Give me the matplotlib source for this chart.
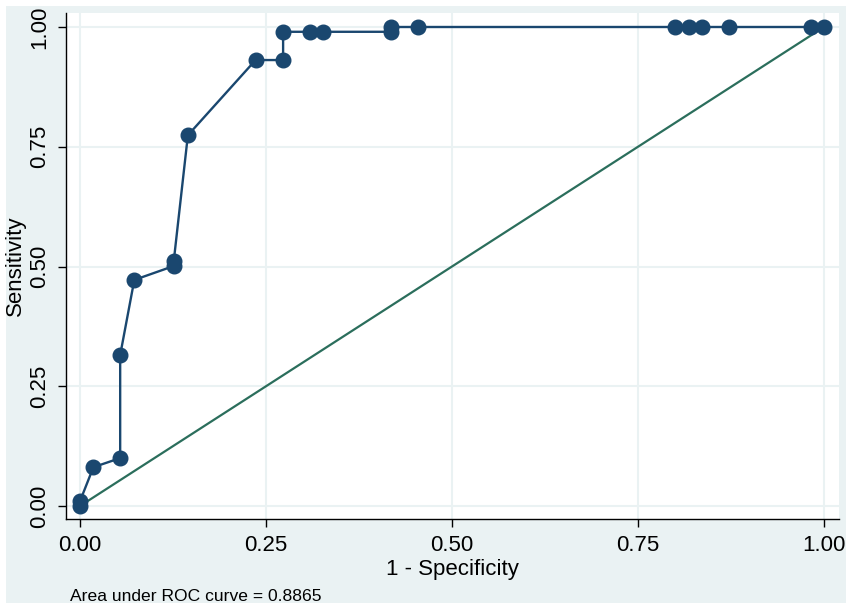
import matplotlib.pyplot as plt
from matplotlib.patches import Rectangle

# ROC points
fpr = [0.0, 0.0, 0.018, 0.054, 0.054, 0.073, 0.126, 0.126, 0.145, 0.236, 0.273,
       0.273, 0.309, 0.327, 0.418, 0.418, 0.454, 0.800, 0.818, 0.836, 0.872,
       0.982, 1.0]
sens = [0.0, 0.010, 0.081, 0.100, 0.315, 0.472, 0.501, 0.511, 0.774, 0.931, 0.931,
        0.990, 0.990, 0.990, 0.990, 1.0, 1.0, 1.0, 1.0, 1.0, 1.0,
        1.0, 1.0]
ticks = [0.0, 0.25, 0.5, 0.75, 1.0]
tick_labels = ["0.00", "0.25", "0.50", "0.75", "1.00"]
auc_note = "Area under ROC curve = 0.8865"

navy = "#1A476F"
green = "#2B6E5C"
bg = "#EAF2F3"
plt.rcParams["font.family"] = ["Liberation Sans", "DejaVu Sans"]

fig = plt.figure(figsize=(8.51, 6.10), dpi=100, facecolor="white")
fig.patches.append(Rectangle((6 / 851, 1 - 603 / 610), 840 / 851, 597 / 610,
                             transform=fig.transFigure, facecolor=bg,
                             edgecolor="none", zorder=-10))
ax = fig.add_axes([66 / 851, 1 - 519 / 610, 773 / 851, 506 / 610])
ax.set_facecolor("white")

ax.plot([0, 1], [0, 1], color=green, lw=1.6, zorder=2)
ax.plot(fpr, sens, color=navy, lw=1.7, marker="o", markersize=10.5,
        markerfacecolor=navy, markeredgecolor=navy, zorder=3)

ax.set_xlim(-14 / 744, 1 + 15 / 744)
ax.set_ylim(-13 / 479, 1 + 14 / 479)
ax.set_xticks(ticks)
ax.set_xticklabels(tick_labels)
ax.set_yticks(ticks)
ax.set_yticklabels(tick_labels, rotation=90, va="center")
ax.tick_params(labelsize=16, length=6, width=1, color="black", pad=5.5)
ax.grid(True, color=bg, lw=1.5)
ax.set_axisbelow(True)

for s in ["top", "right"]:
    ax.spines[s].set_visible(False)
for s in ["left", "bottom"]:
    ax.spines[s].set_color("black")
    ax.spines[s].set_linewidth(1)

ax.set_xlabel("1 - Specificity", fontsize=16, labelpad=2.5)
ax.set_ylabel("Sensitivity", fontsize=16, labelpad=2)
fig.text(70 / 851, 1 - 601 / 610, auc_note, fontsize=12.6, va="baseline", ha="left")

fig.savefig("out.png", dpi=100, facecolor=fig.get_facecolor())
